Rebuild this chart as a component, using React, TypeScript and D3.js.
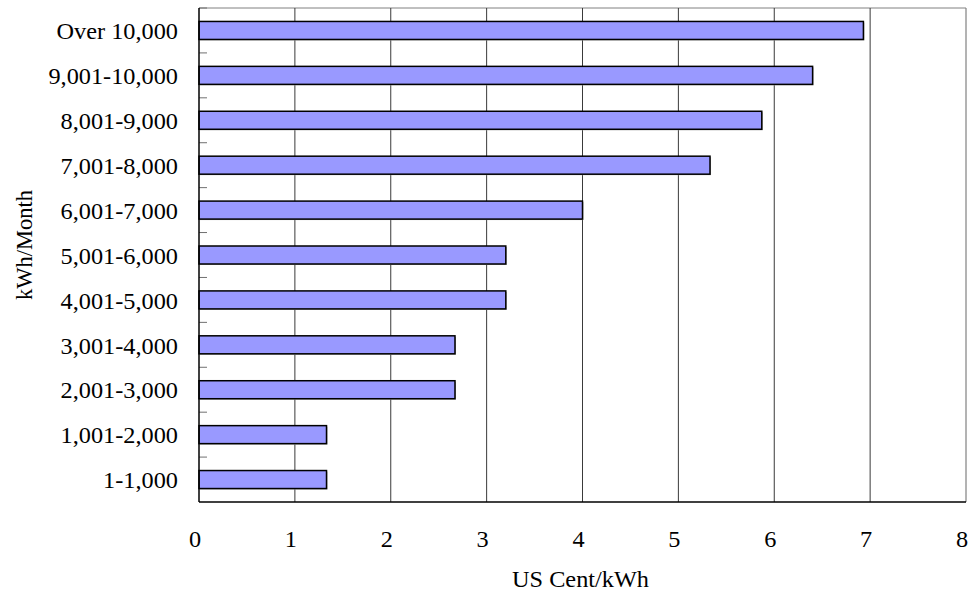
import React from "react";
import * as d3 from "d3";

// Consumption brackets (bottom to top) and the tariff for each bracket
const categories = [
  "1-1,000",
  "1,001-2,000",
  "2,001-3,000",
  "3,001-4,000",
  "4,001-5,000",
  "5,001-6,000",
  "6,001-7,000",
  "7,001-8,000",
  "8,001-9,000",
  "9,001-10,000",
  "Over 10,000",
];
const centPerKwh = [1.33, 1.33, 2.67, 2.67, 3.2, 3.2, 4.0, 5.33, 5.87, 6.4, 6.93];
const xTicks = [0, 1, 2, 3, 4, 5, 6, 7, 8];
const xTitle = "US Cent/kWh";
const yTitle = "kWh/Month";

const W = 968;
const H = 594;
const plot = { left: 199, right: 966, top: 8, bottom: 502 };
const FONT = "'Liberation Serif', 'Times New Roman', serif";
const FS = 22.5;
const STRETCH = 1.08;

function HText({ x, y, anchor, baseline, children }: any) {
  return (
    <text
      transform={`translate(${x},${y}) scale(${STRETCH},1)`}
      textAnchor={anchor}
      dominantBaseline={baseline}
      fontSize={FS}
      fill="#000"
    >
      {children}
    </text>
  );
}

export default function App() {
  const x = d3.scaleLinear().domain([0, 8]).range([plot.left, plot.right]);
  // Top band holds the last category
  const y = d3
    .scaleBand<string>()
    .domain([...categories].reverse())
    .range([plot.top, plot.bottom])
    .paddingInner(0)
    .paddingOuter(0);
  const bw = y.bandwidth();
  const barH = 18;

  const boundaries = d3.range(1, categories.length).map((i) => plot.top + i * bw);

  return (
    <svg
      width={W}
      height={H}
      style={{ position: "absolute", left: 0, top: 0, background: "#fff" }}
      fontFamily={FONT}
    >
      <rect x={0} y={0} width={W} height={H} fill="#fff" />
      {/* frame: top and right */}
      <line x1={plot.left} x2={plot.right} y1={plot.top} y2={plot.top} stroke="#808080" strokeWidth={1} />
      <line x1={plot.right} x2={plot.right} y1={plot.top} y2={plot.bottom} stroke="#808080" strokeWidth={1.2} />
      {/* vertical gridlines */}
      {xTicks.slice(1, -1).map((t) => (
        <line
          key={t}
          x1={x(t)}
          x2={x(t)}
          y1={plot.top}
          y2={plot.bottom}
          stroke="#3a3a3a"
          strokeWidth={1}
        />
      ))}
      {/* inward ticks at band boundaries */}
      {[plot.top, ...boundaries].map((b, i) => (
        <line key={i} x1={plot.left} x2={plot.left + 8} y1={b} y2={b} stroke="#707070" strokeWidth={1} />
      ))}
      {/* bars */}
      {categories.map((c, i) => {
        const yc = (y(c) as number) + bw / 2;
        const w = x(centPerKwh[i]) - x(0);
        return (
          <g key={c}>
            <rect x={x(0) + 1} y={yc - barH / 2 + 1} width={w} height={barH} fill="#b0b0b0" />
            <rect
              x={x(0)}
              y={yc - barH / 2}
              width={w}
              height={barH}
              fill="#9999FF"
              stroke="#000"
              strokeWidth={1.5}
            />
          </g>
        );
      })}
      {/* axes */}
      <line x1={plot.left} x2={plot.left} y1={plot.top} y2={plot.bottom} stroke="#000" strokeWidth={1.5} />
      <line x1={plot.left} x2={plot.right} y1={plot.bottom} y2={plot.bottom} stroke="#000" strokeWidth={1.5} />
      {/* category labels */}
      {categories.map((c) => (
        <HText key={c} x={plot.left - 21} y={(y(c) as number) + bw / 2 + 1} anchor="end" baseline="central">
          {c}
        </HText>
      ))}
      {/* x tick labels */}
      {xTicks.map((t) => (
        <HText key={t} x={x(t) - 4} y={547} anchor="middle">
          {t}
        </HText>
      ))}
      <HText x={(plot.left + plot.right) / 2 - 2} y={587} anchor="middle">
        {xTitle}
      </HText>
      <text
        transform={`translate(32, 245) rotate(-90)`}
        textAnchor="middle"
        fontSize={FS}
        fill="#000"
      >
        {yTitle}
      </text>
    </svg>
  );
}
